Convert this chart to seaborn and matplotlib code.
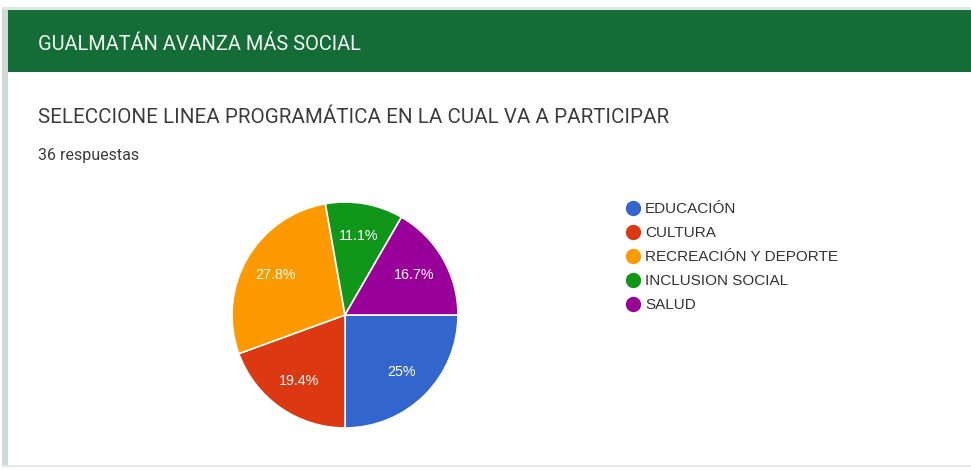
import matplotlib
matplotlib.use("Agg")
import matplotlib.pyplot as plt
from matplotlib.patches import Rectangle
from matplotlib.lines import Line2D
import numpy as np
import seaborn as sns

# ---- data ----
categories = ["EDUCACIÓN", "CULTURA", "RECREACIÓN Y DEPORTE", "INCLUSION SOCIAL", "SALUD"]
counts = [9, 7, 10, 4, 6]
pct_labels = ["25%", "19.4%", "27.8%", "11.1%", "16.7%"]
colors = ["#3366cc", "#dc3912", "#ff9900", "#109618", "#990099"]
header_title = "GUALMATÁN AVANZA MÁS SOCIAL"
question = "SELECCIONE LINEA PROGRAMÁTICA EN LA CUAL VA A PARTICIPAR"
responses = "36 respuestas"

sns.set_theme(style="white")
plt.rcParams['font.family'] = ['Liberation Sans', 'DejaVu Sans']

W, H = 971, 470
fig = plt.figure(figsize=(W / 100, H / 100), dpi=100)
fig.patch.set_facecolor("white")

def fx(px):
    return px / W

def fy(py):
    return 1 - py / H

# outer left border of card
fig.patches.append(Rectangle((fx(2), fy(466)), fx(6), (466 - 8) / H, transform=fig.transFigure,
                             facecolor="#cfdcd4", edgecolor="none", zorder=0))
# bottom border
fig.patches.append(Rectangle((fx(2), fy(467)), 1, 2 / H, transform=fig.transFigure,
                             facecolor="#e3e8e5", edgecolor="none", zorder=0))
# top light strip
fig.patches.append(Rectangle((fx(2), fy(10)), 1, 3 / H, transform=fig.transFigure,
                             facecolor="#dfe7e2", edgecolor="none", zorder=0))
# green header
fig.patches.append(Rectangle((fx(8), fy(72)), 1, (72 - 10) / H, transform=fig.transFigure,
                             facecolor="#146c37", edgecolor="none", zorder=1))

fig.text(fx(38), fy(49.5), header_title, color="#f4fbf6", fontsize=14.4,
         family=["Roboto", "DejaVu Sans"], va="baseline", ha="left")
fig.text(fx(38), fy(123), question, color="#3c3c3c", fontsize=14.8,
         family=["Roboto", "DejaVu Sans"], va="baseline", ha="left")
fig.text(fx(38), fy(160), responses, color="#3c3c3c", fontsize=11.5,
         family=["Roboto", "DejaVu Sans"], va="baseline", ha="left")

# pie
cx, cy, r = 345, 315, 113
ax = fig.add_axes([fx(cx - r), fy(cy + r), 2 * r / W, 2 * r / H])
wedges, texts = ax.pie(counts, colors=colors, startangle=0, counterclock=False,
                       radius=1.0, wedgeprops=dict(edgecolor="white", linewidth=1.2),
                       labels=None)
for w, lab in zip(wedges, pct_labels):
    ang = np.deg2rad((w.theta1 + w.theta2) / 2)
    ax.text(0.71 * np.cos(ang), 0.71 * np.sin(ang), lab, color="white", fontsize=10.3,
            ha="center", va="center")
ax.set_xlim(-1.0, 1.0)
ax.set_ylim(-1.0, 1.0)
ax.set_aspect("auto")
ax.axis("off")

# legend
handles = [Line2D([0], [0], marker="o", linestyle="none", markersize=10,
                  markerfacecolor=c, markeredgecolor=c) for c in colors]
leg = fig.legend(handles, categories, loc="upper left",
                 bbox_to_anchor=(fx(625), fy(202)), frameon=False,
                 fontsize=11, handletextpad=0.3, labelspacing=0.66,
                 handlelength=1.0, borderaxespad=0, borderpad=0)
for t in leg.get_texts():
    t.set_color("#333333")

fig.savefig("out.png", dpi=100, facecolor="white")
